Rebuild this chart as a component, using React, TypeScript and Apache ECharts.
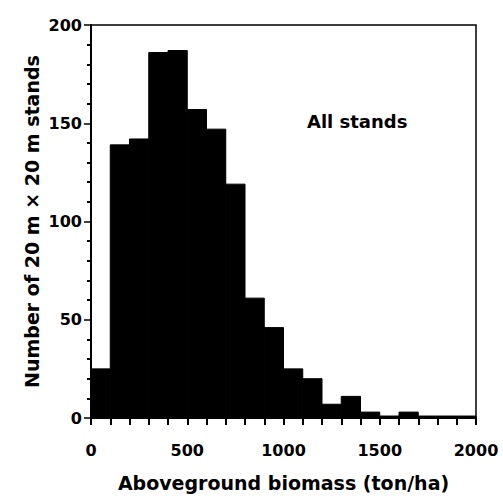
import React, { useEffect, useRef } from "react";
import * as echarts from "echarts";

const binStarts = [0, 100, 200, 300, 400, 500, 600, 700, 800, 900, 1000, 1100, 1200, 1300, 1400, 1500, 1600, 1700, 1800, 1900];
const binWidth = 100;
const counts = [25, 139, 142, 186, 187, 157, 147, 119, 61, 46, 25, 20, 7, 11, 3, 1, 3, 1, 1, 1];
const yTicks = [0, 50, 100, 150, 200];
const xTicks = [0, 500, 1000, 1500, 2000];

const FONT = "'DejaVu Sans', 'Open Sans', sans-serif";

export default function App() {
  const ref = useRef<HTMLDivElement>(null);
  useEffect(() => {
    if (!ref.current) return;
    const chart = echarts.init(ref.current, undefined, { renderer: "svg" });
    const data = binStarts.map((s, i) => [s, s + binWidth, counts[i]]);
    chart.setOption({
      animation: false,
      backgroundColor: "#ffffff",
      grid: {
        left: 91,
        right: 27,
        top: 25,
        bottom: 81,
        show: true,
        borderColor: "#000",
        borderWidth: 1.5,
        backgroundColor: "transparent",
      },
      xAxis: {
        type: "value",
        min: xTicks[0],
        max: xTicks[xTicks.length - 1],
        interval: 500,
        name: "Aboveground biomass (ton/ha)",
        nameLocation: "middle",
        nameGap: 55,
        nameMoveOverlap: false,
        nameTextStyle: { fontFamily: FONT, fontSize: 19, fontWeight: "bold", color: "#000" },
        axisLine: { show: true, onZero: false, lineStyle: { color: "#000", width: 2 } },
        axisTick: { show: true, length: 7, lineStyle: { color: "#000", width: 2 } },
        minorTick: { show: true, splitNumber: 5, length: 7, lineStyle: { color: "#000", width: 2 } },
        splitLine: { show: false },
        minorSplitLine: { show: false },
        axisLabel: {
          fontFamily: FONT,
          fontSize: 16,
          fontWeight: "bold",
          color: "#000",
          margin: 24,
          formatter: (v: number) => String(v),
        },
      },
      yAxis: {
        type: "value",
        min: yTicks[0],
        max: yTicks[yTicks.length - 1],
        interval: 50,
        name: "Number of 20 m × 20 m stands",
        nameLocation: "middle",
        nameGap: 50,
        nameMoveOverlap: false,
        nameTextStyle: { fontFamily: FONT, fontSize: 19, fontWeight: "bold", color: "#000" },
        axisLine: { show: true, lineStyle: { color: "#000", width: 2 } },
        axisTick: { show: true, length: 7, lineStyle: { color: "#000", width: 1.5 } },
        minorTick: { show: true, splitNumber: 5, length: 4, lineStyle: { color: "#000", width: 2 } },
        splitLine: { show: false },
        minorSplitLine: { show: false },
        axisLabel: {
          fontFamily: FONT,
          fontSize: 16,
          fontWeight: "bold",
          color: "#000",
          margin: 9,
          formatter: (v: number) => String(v),
        },
      },
      series: [
        {
          type: "custom",
          data,
          encode: { x: [0, 1], y: 2 },
          renderItem: (params: any, api: any) => {
            const p0 = api.coord([api.value(0), 0]);
            const p1 = api.coord([api.value(1), api.value(2)]);
            return {
              type: "rect",
              shape: { x: p0[0], y: p1[1], width: p1[0] - p0[0], height: p0[1] - p1[1] },
              style: { fill: "#000", stroke: "#000", lineWidth: 1 },
            };
          },
        },
      ],
      graphic: [
        {
          type: "text",
          left: 307,
          top: 112,
          style: { text: "All stands", fontFamily: FONT, fontSize: 18, fontWeight: "bold", fill: "#000" },
        },
      ],
    });
    return () => chart.dispose();
  }, []);
  return <div ref={ref} style={{ width: 503, height: 499, position: "absolute", left: 0, top: 0 }} />;
}
